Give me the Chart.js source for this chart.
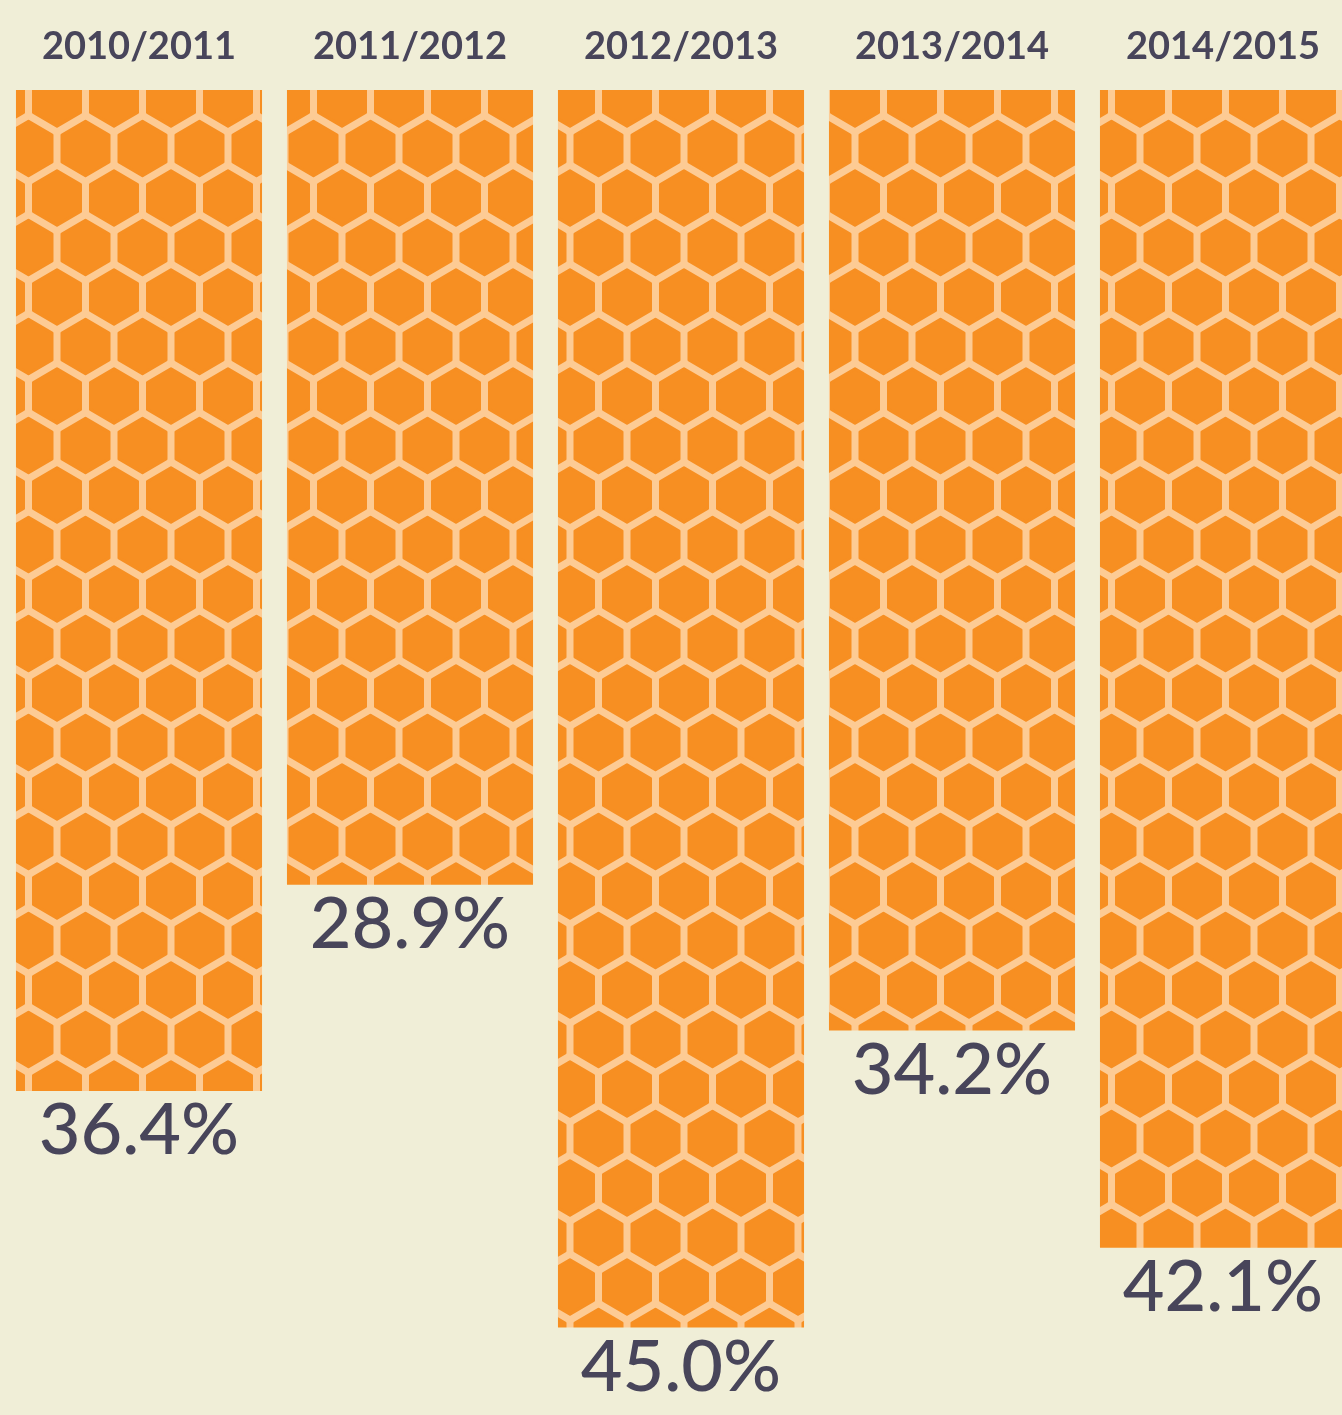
<!DOCTYPE html>
<html>
<head>
<meta charset="utf-8">
<script src="https://cdn.jsdelivr.net/npm/chart.js@4/dist/chart.umd.min.js"></script>
<style>
  html, body { margin: 0; padding: 0; background: #f0eed7; overflow: hidden; }
  #wrap { width: 1360px; height: 1415px; }
</style>
</head>
<body>
<div id="wrap"><canvas id="honeyChart"></canvas></div>
<script>
// Season labels and percentage values
const seasons = ["2010/2011", "2011/2012", "2012/2013", "2013/2014", "2014/2015"];
const lossPct = [36.4, 28.9, 45.0, 34.2, 42.1];

const textColor = "#48455a";
const orange = "#f78f22";
const combLine = "#fdcb94";

// Build a repeating honeycomb pattern for the bars
function makeHoneycomb() {
  const w = 57;
  const rowH = w * Math.sqrt(3) / 2;
  const c = document.createElement("canvas");
  c.width = w;
  c.height = Math.round(rowH * 2);
  const g = c.getContext("2d");
  g.fillStyle = combLine;
  g.fillRect(0, 0, c.width, c.height);

  const r = (w / 2 - 5) * 2 / Math.sqrt(3); // inner hex radius, leaves the light gap
  const hex = (cx, cy) => {
    g.beginPath();
    for (let i = 0; i < 6; i++) {
      const a = Math.PI / 6 + i * Math.PI / 3; // pointy top
      const px = cx + r * Math.cos(a);
      const py = cy + r * Math.sin(a);
      if (i === 0) g.moveTo(px, py); else g.lineTo(px, py);
    }
    g.closePath();
    g.fill();
    g.stroke();
  };
  g.fillStyle = orange;
  g.strokeStyle = orange;
  g.lineWidth = 3;
  g.lineJoin = "round";
  [0, w].forEach(x => { hex(x, 0); hex(x, c.height); });
  hex(w / 2, c.height / 2);
  return g.createPattern(c, "repeat");
}

// Write the percentage under each bar
const valueLabels = {
  id: "valueLabels",
  afterDatasetsDraw(chart) {
    const ctx = chart.ctx;
    const meta = chart.getDatasetMeta(0);
    ctx.save();
    ctx.fillStyle = textColor;
    ctx.font = "500 72px Lato, 'Open Sans', sans-serif";
    ctx.textAlign = "center";
    ctx.textBaseline = "alphabetic";
    meta.data.forEach((bar, i) => {
      ctx.fillText(lossPct[i].toFixed(1) + "%", bar.x, bar.y + 63);
    });
    ctx.restore();
  }
};

const ctx = document.getElementById("honeyChart").getContext("2d");
new Chart(ctx, {
  type: "bar",
  data: {
    labels: seasons,
    datasets: [{
      data: lossPct,
      backgroundColor: makeHoneycomb(),
      borderWidth: 0,
      categoryPercentage: 1,
      barPercentage: 0.908
    }]
  },
  options: {
    responsive: true,
    maintainAspectRatio: false,
    animation: false,
    devicePixelRatio: 1,
    layout: { padding: { left: 3.5, right: 1.5, top: 0, bottom: 0 } },
    plugins: {
      legend: { display: false },
      tooltip: { enabled: false }
    },
    scales: {
      x: {
        position: "top",
        grid: { display: false, drawTicks: false },
        border: { display: false },
        ticks: {
          color: textColor,
          font: { family: "Lato, 'Open Sans', sans-serif", size: 38, weight: "bold" },
          padding: 20,
          maxRotation: 0,
          autoSkip: false
        },
        afterFit: scale => { scale.height = 90; }
      },
      y: {
        display: false,
        reverse: true,
        min: 0,
        max: 48.18
      }
    }
  },
  plugins: [valueLabels]
});
</script>
</body>
</html>
